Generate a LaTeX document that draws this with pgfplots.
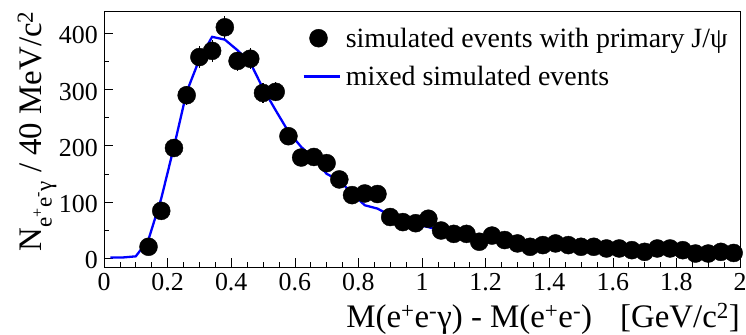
\documentclass[border=0pt]{standalone}
\usepackage{fontspec}
\setmainfont{Liberation Serif}
\usepackage{pgfplots}
\usepackage{pgfplotstable}
\pgfplotsset{compat=1.18}
\pgfplotstableread{
x y e
0.14 20 4.5
0.18 84 9.2
0.22 196 14.0
0.26 290 17.0
0.30 358 18.9
0.34 369 19.2
0.38 411 20.3
0.42 351 18.7
0.46 355 18.8
0.50 294 17.1
0.54 296 17.2
0.58 217 14.7
0.62 179 13.4
0.66 180 13.4
0.70 169 13.0
0.74 140 11.8
0.78 112 10.6
0.82 115 10.7
0.86 114 10.7
0.90 73 8.5
0.94 64 8.0
0.98 62 7.9
1.02 70 8.4
1.06 49 7.0
1.10 43 6.6
1.14 43 6.6
1.18 29 5.4
1.22 40 6.3
1.26 32 5.7
1.30 26 5.1
1.34 20 4.5
1.38 23 4.8
1.42 26 5.1
1.46 23 4.8
1.50 20 4.5
1.54 20 4.5
1.58 17 4.1
1.62 17 4.1
1.66 14 3.7
1.70 11 3.3
1.74 17 4.1
1.78 17 4.1
1.82 14 3.7
1.86 8 2.8
1.90 8 2.8
1.94 11 3.3
1.98 9 3.0
}\datatable
\pgfplotstableread{
x y
0.02 1
0.06 1
0.10 3
0.14 33
0.18 106
0.22 198
0.26 296
0.30 354
0.34 394
0.38 389
0.42 370
0.46 348
0.50 302
0.54 263
0.58 225
0.62 198
0.66 177
0.70 150
0.74 138
0.78 115
0.82 94
0.86 88
0.90 76
0.94 73
0.98 60
1.02 55
1.06 49
1.10 40
1.14 40
1.18 35
1.22 32
1.26 29
1.30 23
1.34 20
1.38 20
1.42 20
1.46 17
1.50 14
1.54 15
1.58 12
1.62 11
1.66 8
1.70 9
1.74 8
1.78 8
1.82 5
1.86 5
1.90 5
1.94 5
1.98 5
}\mixtable
\begin{document}
\begin{tikzpicture}
\useasboundingbox (-104bp,-68bp) rectangle (642bp,267bp);
\begin{axis}[
  at={(0bp,0bp)}, anchor=south west,
  scale only axis, width=636bp, height=256bp,
  xmin=0, xmax=2, ymin=-16, ymax=440,
  xtick={0,0.2,0.4,0.6,0.8,1,1.2,1.4,1.6,1.8,2},
  minor x tick num=3,
  ytick={0,100,200,300,400},
  minor y tick num=1,
  tick pos=left, tick align=inside,
  major tick length=9bp, minor tick length=5bp,
  every tick/.style={black, line width=0.6bp},
  axis line style={line width=0.8bp},
  ticklabel style={font=\fontsize{26}{26}\selectfont, inner sep=0pt},
  /pgf/number format/assume math mode=true,
  xticklabel style={/pgf/number format/fixed, anchor=base, yshift=-23bp},
  yticklabel style={anchor=east, xshift=-6bp, yshift=-2bp},
  xlabel={M(e\textsuperscript{+}e\textsuperscript{-}γ) - M(e\textsuperscript{+}e\textsuperscript{-})\hspace{0.85em}[GeV/c\textsuperscript{2}]},
  xlabel style={font=\fontsize{33}{33}\selectfont, at={(axis description cs:1,0)}, anchor=base east, yshift=-60bp, inner sep=0pt},
  ylabel={N\textsubscript{e\textsuperscript{+}e\textsuperscript{-}γ} / 40 MeV/c\textsuperscript{2}},
  ylabel style={font=\fontsize{33}{33}\selectfont, at={(axis description cs:-0.0975,1)}, anchor=base east, inner sep=0pt},
]
\addplot[only marks, mark=*, mark size=9bp, black,
  error bars/.cd, y dir=both, y explicit, error mark=none,
  error bar style={line width=1.2bp, black}]
  table[x=x, y=y, y error=e] {\datatable};
\addplot[blue, line width=2.3bp]
  table[x=x, y=y] {\mixtable};
\end{axis}
\begin{axis}[
  at={(0bp,0bp)}, anchor=south west,
  scale only axis, width=636bp, height=256bp,
  xmin=0, xmax=2, ymin=-16, ymax=440, hide axis,
  legend style={draw=none, fill=none, at={(axis description cs:0.3113,0.9453)}, anchor=north west,
    font=\fontsize{28}{28}\selectfont, row sep=12bp, column sep=0pt, inner sep=0pt,
    nodes={inner xsep=5bp, inner ysep=0pt, text height=22bp, text depth=4bp}},
  legend cell align=left,
]
\addlegendimage{legend image code/.code={\path[draw=none,fill=none] (0bp,-1bp) rectangle (36bp,1bp); \fill[black] (15bp,0bp) circle (9bp);}}
\addlegendentry{simulated events with primary J/ψ}
\addlegendimage{legend image code/.code={\draw[blue, line width=2.7bp] (0bp,0bp) -- (36bp,0bp);}}
\addlegendentry{mixed simulated events}
\end{axis}
\end{tikzpicture}
\end{document}
